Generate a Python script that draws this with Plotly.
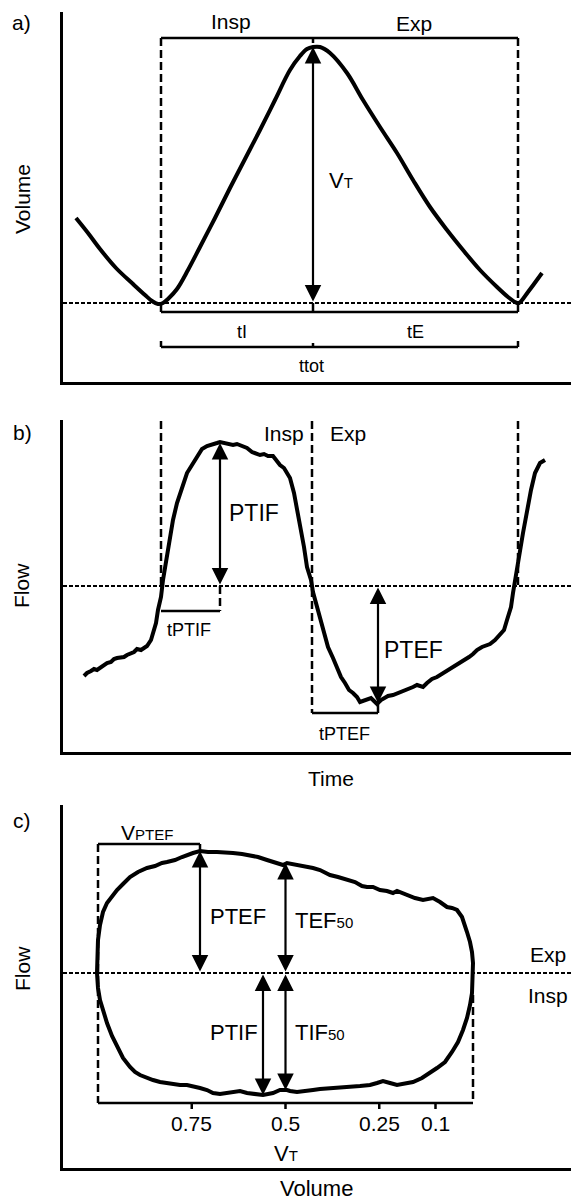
import plotly.graph_objects as go

W, H = 571, 1201
FONT = "Liberation Sans, Arial, sans-serif"

# ---------------- Panel a: volume vs time ----------------
time_a = [0.13, 0.25, 0.37, 0.53, 0.70, 0.82, 0.89, 0.95, 1.00, 1.05, 1.14, 1.25, 1.37, 1.52,
          1.67, 1.82, 1.97, 2.12, 2.27, 2.37, 2.44, 2.50, 2.57, 2.67, 2.84, 3.00, 3.17, 3.34,
          3.50, 3.67, 3.84, 4.00, 4.17, 4.34, 4.45, 4.52, 4.56, 4.65, 4.79]
volume_a = [0.85, 0.70, 0.54, 0.35, 0.19, 0.08, 0.02, -0.01, 0.00, 0.04, 0.14, 0.33, 0.56, 0.85,
            1.15, 1.44, 1.73, 2.03, 2.33, 2.47, 2.54, 2.56, 2.56, 2.50, 2.30, 2.03, 1.76, 1.50,
            1.23, 0.96, 0.73, 0.53, 0.33, 0.16, 0.06, 0.01, 0.00, 0.11, 0.30]
t_insp_a, t_exp_a, t_end_a = 0.98, 2.50, 4.55
VT_a = 2.56

# ---------------- Panel b: flow vs time ----------------
time_b = [0.21, 0.24, 0.28, 0.31, 0.34, 0.38, 0.41, 0.44, 0.48, 0.51, 0.54, 0.58, 0.61, 0.64,
          0.68, 0.71, 0.74, 0.78, 0.81, 0.84, 0.88, 0.90, 0.93, 0.95, 0.98, 1.00, 1.03, 1.06,
          1.10, 1.14, 1.19, 1.24, 1.29, 1.34, 1.39, 1.44, 1.49, 1.54, 1.57, 1.61, 1.65, 1.70,
          1.74, 1.79, 1.84, 1.89, 1.93, 1.97, 2.01, 2.05, 2.10, 2.13, 2.17, 2.21, 2.24, 2.27,
          2.31, 2.34, 2.38, 2.41, 2.44, 2.48, 2.50, 2.54, 2.57, 2.61, 2.65, 2.70, 2.74, 2.78,
          2.82, 2.86, 2.90, 2.94, 2.97, 3.00, 3.04, 3.08, 3.11, 3.14, 3.18, 3.21, 3.25, 3.30,
          3.35, 3.40, 3.45, 3.50, 3.54, 3.60, 3.64, 3.69, 3.74, 3.79, 3.83, 3.88, 3.92, 3.97,
          4.02, 4.06, 4.10, 4.14, 4.19, 4.23, 4.27, 4.32, 4.37, 4.41, 4.44, 4.48, 4.50, 4.53,
          4.56, 4.60, 4.64, 4.68, 4.72, 4.77, 4.82]
flow_b = [-0.90, -0.87, -0.85, -0.83, -0.84, -0.81, -0.79, -0.77, -0.76, -0.73, -0.72, -0.71,
          -0.71, -0.69, -0.67, -0.66, -0.63, -0.64, -0.62, -0.60, -0.54, -0.47, -0.37, -0.24,
          -0.11, 0.06, 0.26, 0.46, 0.66, 0.83, 0.99, 1.13, 1.21, 1.29, 1.37, 1.40, 1.42, 1.43,
          1.44, 1.43, 1.43, 1.41, 1.42, 1.40, 1.38, 1.34, 1.33, 1.31, 1.32, 1.30, 1.30, 1.26,
          1.21, 1.18, 1.13, 1.08, 0.93, 0.76, 0.59, 0.39, 0.19, 0.06, -0.06, -0.21, -0.34,
          -0.47, -0.61, -0.72, -0.81, -0.91, -0.97, -1.04, -1.07, -1.11, -1.16, -1.15, -1.14,
          -1.12, -1.15, -1.18, -1.14, -1.12, -1.10, -1.09, -1.07, -1.05, -1.04, -1.01, -0.99,
          -1.01, -0.97, -0.93, -0.91, -0.88, -0.85, -0.82, -0.80, -0.77, -0.74, -0.71, -0.68,
          -0.64, -0.61, -0.59, -0.58, -0.54, -0.49, -0.44, -0.34, -0.21, -0.07, 0.09, 0.29,
          0.53, 0.76, 0.96, 1.13, 1.23, 1.26]
t_insp_b, t_exp_b, t_end_b = 0.98, 2.49, 4.55
t_ptif, ptif = 1.57, 1.43
t_ptef, ptef = 3.15, -1.17

# ---------------- Panel c: flow vs volume loop ----------------
volume_c = [752, 752, 750, 746, 740, 732, 722, 712, 700, 686, 670, 652, 636, 622, 612, 596, 582,
            572, 560, 546, 530, 512, 496, 480, 462, 446, 430, 412, 396, 380, 372, 360, 346, 332,
            320, 306, 286, 270, 252, 236, 222, 212, 200, 186, 172, 160, 152, 142, 132, 116, 100,
            90, 80, 66, 52, 42, 32, 22, 16, 12, 6, 2, 0, 0,
            0, 2, 6, 12, 20, 30, 42, 56, 72, 86, 102, 120, 136, 152, 166, 180, 192, 206, 226,
            252, 270, 286, 306, 320, 336, 352, 366, 372, 386, 400, 420, 436, 452, 466, 480, 492,
            506, 520, 532, 546, 560, 572, 586, 600, 612, 626, 640, 652, 666, 676, 686, 700, 712,
            722, 732, 740, 746, 750, 752, 752]
flow_c = [0.00, 0.18, 0.33, 0.48, 0.61, 0.70, 0.77, 0.83, 0.89, 0.96, 1.01, 1.05, 1.07, 1.10,
          1.11, 1.13, 1.16, 1.18, 1.20, 1.22, 1.21, 1.21, 1.20, 1.20, 1.19, 1.18, 1.16, 1.13,
          1.11, 1.08, 1.10, 1.09, 1.08, 1.07, 1.05, 1.03, 0.98, 0.96, 0.93, 0.91, 0.87, 0.86,
          0.86, 0.83, 0.82, 0.80, 0.82, 0.80, 0.78, 0.75, 0.73, 0.74, 0.75, 0.71, 0.66, 0.65,
          0.63, 0.56, 0.48, 0.41, 0.31, 0.21, 0.10, 0.00,
          -0.07, -0.20, -0.32, -0.45, -0.57, -0.69, -0.79, -0.89, -0.95, -1.00, -1.05, -1.09,
          -1.11, -1.12, -1.10, -1.08, -1.10, -1.12, -1.13, -1.14, -1.14, -1.15, -1.16, -1.17,
          -1.18, -1.19, -1.18, -1.17, -1.17, -1.20, -1.22, -1.21, -1.20, -1.18, -1.19, -1.19,
          -1.21, -1.20, -1.17, -1.15, -1.13, -1.12, -1.12, -1.11, -1.10, -1.09, -1.07, -1.05,
          -1.02, -0.99, -0.94, -0.85, -0.74, -0.63, -0.50, -0.37, -0.27, -0.15, -0.07, 0.00]
VT_c = 750
vt_fractions = [0.75, 0.5, 0.25, 0.1]
vt_labels = ["0.75", "0.5", "0.25", "0.1"]
v_ptef_c, ptef_c = 546, 1.22
tef50 = 1.10
v_ptif_c, ptif_c = 420, -1.22
tif50 = -1.17


def px_x(p):
    return p / W


def px_y(p):
    return 1 - p / H


fig = go.Figure()
fig.add_trace(go.Scatter(x=time_a, y=volume_a, mode="lines", line=dict(color="black", width=4),
                         xaxis="x", yaxis="y", line_shape="spline", hoverinfo="skip"))
fig.add_trace(go.Scatter(x=time_b, y=flow_b, mode="lines", line=dict(color="black", width=4),
                         xaxis="x2", yaxis="y2", hoverinfo="skip"))
fig.add_trace(go.Scatter(x=volume_c, y=flow_c, mode="lines", line=dict(color="black", width=4),
                         xaxis="x3", yaxis="y3", hoverinfo="skip"))

shapes = []
DASH = "8px,4px"
DOT = "4px,2px"


def seg(ax, x0, y0, x1, y1, dash=None, width=2.5):
    xr = "x" if ax == 1 else f"x{ax}"
    yr = "y" if ax == 1 else f"y{ax}"
    line = dict(color="black", width=width)
    if dash:
        line["dash"] = dash
    shapes.append(dict(type="line", xref=xr, yref=yr, x0=x0, y0=y0, x1=x1, y1=y1, line=line,
                       layer="above"))


# panel a structure
seg(1, 0, 0, 5.08, 0, DOT, 2)
seg(1, t_insp_a, 2.65, t_end_a, 2.65)
seg(1, t_insp_a, 2.65, t_insp_a, 0, DASH)
seg(1, t_end_a, 2.65, t_end_a, 0, DASH)
seg(1, t_exp_a, 2.65, t_exp_a, 2.60)
seg(1, t_insp_a, -0.09, t_end_a, -0.09)
for t in (t_insp_a, t_exp_a, t_end_a):
    seg(1, t, 0, t, -0.09)
seg(1, t_insp_a, -0.44, t_end_a, -0.44)
seg(1, t_insp_a, -0.38, t_insp_a, -0.44)
seg(1, t_end_a, -0.38, t_end_a, -0.44)
seg(1, t_exp_a, -0.40, t_exp_a, -0.44)

# panel b structure
seg(2, 0, 0, 5.08, 0, DOT, 2)
seg(2, t_insp_b, 1.65, t_insp_b, 0, DASH)
seg(2, t_exp_b, 1.65, t_exp_b, -1.27, DASH)
seg(2, t_end_b, 1.65, t_end_b, 0, DASH)
seg(2, t_insp_b, -0.25, t_ptif, -0.25)
seg(2, t_ptif, 0, t_ptif, -0.25, DASH)
seg(2, t_exp_b, -1.27, t_ptef, -1.27)
seg(2, t_ptef, ptef, t_ptef, -1.27)

# panel c structure
seg(3, 820, 0, -196, 0, DOT, 2)
seg(3, VT_c, 1.29, v_ptef_c, 1.29)
seg(3, v_ptef_c, 1.29, v_ptef_c, ptef_c)
seg(3, VT_c, 1.29, VT_c, -1.30, DASH)
seg(3, VT_c, -1.30, 0, -1.30)
for f in vt_fractions:
    seg(3, f * VT_c, -1.30, f * VT_c, -1.36)
seg(3, 0, -0.22, 0, -1.30, DASH)

ann = []


def arrow(ax, x, y0, y1):
    xr = "x" if ax == 1 else f"x{ax}"
    yr = "y" if ax == 1 else f"y{ax}"
    ann.append(dict(xref=xr, yref=yr, axref=xr, ayref=yr, x=x, y=y1, ax=x, ay=y0, text="",
                    showarrow=True, arrowhead=2, startarrowhead=2, arrowside="end+start",
                    arrowsize=1.5, startarrowsize=1.5, arrowwidth=2.2, arrowcolor="black",
                    standoff=0, startstandoff=0))


arrow(1, t_exp_a, 0, VT_a)
arrow(2, t_ptif, 0, ptif)
arrow(2, t_ptef, 0, ptef)
arrow(3, v_ptef_c, 0, ptef_c)
arrow(3, VT_c * 0.5, 0, tef50)
arrow(3, v_ptif_c, 0, ptif_c)
arrow(3, VT_c * 0.5, 0, tif50)


def txt(ax, x, y, s, size=21, xanchor="center"):
    xr = "x" if ax == 1 else f"x{ax}"
    yr = "y" if ax == 1 else f"y{ax}"
    ann.append(dict(xref=xr, yref=yr, x=x, y=y, text=s, showarrow=False, xanchor=xanchor,
                    yanchor="middle", font=dict(family=FONT, size=size, color="black")))


def ptxt(px, py, s, size=21, angle=0):
    ann.append(dict(xref="paper", yref="paper", x=px_x(px), y=px_y(py), text=s, showarrow=False,
                    xanchor="center", yanchor="middle", textangle=angle,
                    font=dict(family=FONT, size=size, color="black")))


SUB = "<span style='font-size:15px'>{}</span>"

# panel a text
txt(1, 1.68, 2.82, "Insp")
txt(1, 3.51, 2.80, "Exp")
txt(1, 2.64, 1.23, "V" + SUB.format("T"), 22, "left")
txt(1, 1.79, -0.29, "tI", 18)
txt(1, 3.52, -0.29, "tE", 18)
txt(1, 2.48, -0.63, "ttot", 18)
ptxt(21, 23, "a)")
ptxt(22, 199, "Volume", 21, -90)

# panel b text
txt(2, 2.43, 1.53, "Insp", 21, "right")
txt(2, 2.65, 1.53, "Exp", 21, "left")
txt(2, 1.64, 0.73, "PTIF", 23, "left")
txt(2, 1.26, -0.44, "tPTIF", 18)
txt(2, 3.19, -0.64, "PTEF", 23, "left")
txt(2, 2.81, -1.48, "tPTEF", 18)
ptxt(22, 432, "b)")
ptxt(21, 586, "Flow", 21, -90)
ptxt(331, 778, "Time", 21)

# panel c text
txt(3, 652, 1.41, "V" + SUB.format("PTEF"), 21)
txt(3, 530, 0.57, "PTEF", 22, "left")
txt(3, 530, -0.59, "PTIF", 22, "left")
txt(3, 360, 0.53, "TEF" + SUB.format("50"), 22, "left")
txt(3, 360, -0.59, "TIF" + SUB.format("50"), 22, "left")
txt(3, -150, 0.19, "Exp", 21)
txt(3, -150, -0.22, "Insp", 21)
for f, lab in zip(vt_fractions, vt_labels):
    txt(3, f * VT_c, -1.50, lab, 21)
txt(3, VT_c * 0.5, -1.80, "V" + SUB.format("T"), 22)
ptxt(22, 820, "c)")
ptxt(22, 969, "Flow", 21, -90)
ptxt(316, 1188, "Volume", 22)

axis_common = dict(showline=True, linewidth=3, linecolor="black", showticklabels=False,
                   ticks="", showgrid=False, zeroline=False, fixedrange=True)

fig.update_layout(
    width=W, height=H, margin=dict(l=0, r=0, t=0, b=0),
    paper_bgcolor="white", plot_bgcolor="white", showlegend=False,
    xaxis=dict(domain=[63 / W, 1], range=[0, 5.08], anchor="y", **axis_common),
    yaxis=dict(domain=[px_y(382), px_y(12)], range=[-0.79, 2.91], anchor="x", **axis_common),
    xaxis2=dict(domain=[63 / W, 1], range=[0, 5.08], anchor="y2", **axis_common),
    yaxis2=dict(domain=[px_y(752), px_y(420)], range=[-1.66, 1.66], anchor="x2", **axis_common),
    xaxis3=dict(domain=[63 / W, 1], range=[820, -196], anchor="y3", **axis_common),
    yaxis3=dict(domain=[px_y(1168), px_y(805)], range=[-1.95, 1.68], anchor="x3", **axis_common),
    shapes=shapes, annotations=ann,
)

fig.write_html("out.html", config={"displayModeBar": False},
               post_script="document.body.style.margin='0';document.body.style.overflow='hidden';")
